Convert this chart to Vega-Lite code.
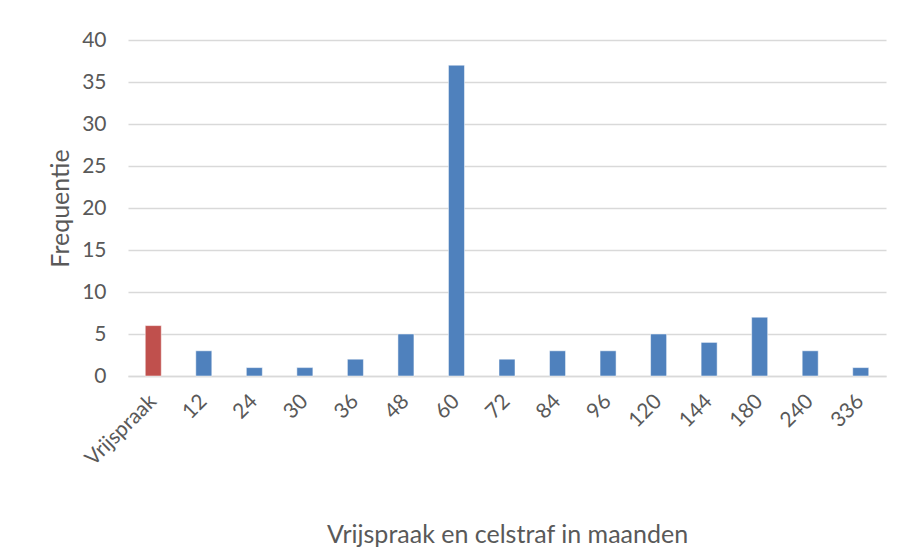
{
  "$schema": "https://vega.github.io/schema/vega-lite/v6.json",
  "autosize": "none",
  "width": 758,
  "height": 336,
  "padding": {"left": 128, "top": 40, "right": 20, "bottom": 173},
  "background": "white",
  "data": {"values": [
    {"cat": "Vrijspraak", "n": 6, "type": "vrij"},
    {"cat": "12", "n": 3, "type": "straf"},
    {"cat": "24", "n": 1, "type": "straf"},
    {"cat": "30", "n": 1, "type": "straf"},
    {"cat": "36", "n": 2, "type": "straf"},
    {"cat": "48", "n": 5, "type": "straf"},
    {"cat": "60", "n": 37, "type": "straf"},
    {"cat": "72", "n": 2, "type": "straf"},
    {"cat": "84", "n": 3, "type": "straf"},
    {"cat": "96", "n": 3, "type": "straf"},
    {"cat": "120", "n": 5, "type": "straf"},
    {"cat": "144", "n": 4, "type": "straf"},
    {"cat": "180", "n": 7, "type": "straf"},
    {"cat": "240", "n": 3, "type": "straf"},
    {"cat": "336", "n": 1, "type": "straf"}
  ]},
  "mark": {"type": "bar", "stroke": "white", "strokeWidth": 0.5},
  "encoding": {
    "x": {
      "field": "cat", "type": "nominal", "sort": null,
      "scale": {"paddingInner": 0.683, "paddingOuter": 0.3415},
      "axis": {
        "title": "Vrijspraak en celstraf in maanden",
        "labelAngle": -45, "labelAlign": "right", "labelBaseline": "middle",
        "labelPadding": 22, "ticks": false, "domain": true, "domainColor": "#D9D9D9", "domainWidth": 1.5,
        "titleY": 158, "titleBaseline": "middle"
      }
    },
    "y": {
      "field": "n", "type": "quantitative",
      "scale": {"domain": [0, 40]},
      "axis": {
        "title": "Frequentie", "values": [0,5,10,15,20,25,30,35,40],
        "ticks": false, "domain": false, "labelPadding": 22,
        "titleX": -68, "titleY": 168, "titleAngle": -90, "titleBaseline": "middle", "titleAlign": "center"
      }
    },
    "color": {
      "field": "type", "type": "nominal", "legend": null,
      "scale": {"domain": ["vrij", "straf"], "range": ["#C0504D", "#4F81BD"]}
    }
  },
  "config": {
    "view": {"stroke": null},
    "axis": {
      "labelFont": "Lato", "titleFont": "Lato",
      "labelFontSize": 21, "titleFontSize": 25, "titleFontWeight": "normal",
      "labelColor": "#595959", "titleColor": "#595959",
      "gridColor": "#D9D9D9", "gridWidth": 1.5
    },
    "axisX": {"grid": false}
  }
}
